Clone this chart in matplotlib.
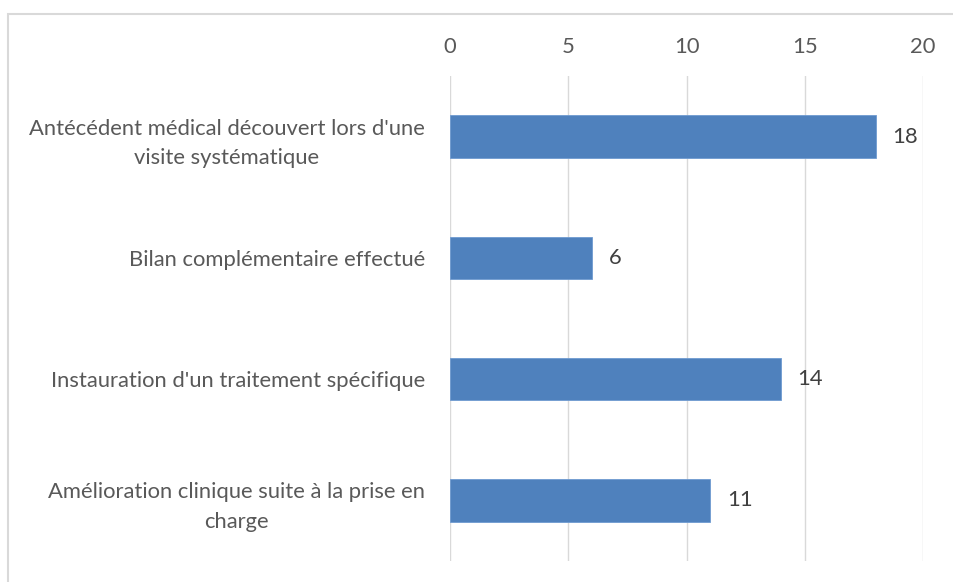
import matplotlib.pyplot as plt
from matplotlib.patches import Rectangle

categories = [
    "Antécédent médical découvert lors d'une\nvisite systématique",
    "Bilan complémentaire effectué",
    "Instauration d'un traitement spécifique",
    "Amélioration clinique suite à la prise en\ncharge",
]
counts = [18, 6, 14, 11]
x_ticks = [0, 5, 10, 15, 20]

TEXT = "#595959"
GRID = "#d9d9d9"
BAR = "#4f81bd"
FS = 15.8

plt.rcParams["font.family"] = ["Lato", "DejaVu Sans"]

fig = plt.figure(figsize=(9.54, 5.82), dpi=100)
ax = fig.add_axes([450 / 954, 1 - 561 / 582, 473 / 954, 485 / 582])

# chart border (only top/left edges visible in the crop)
fig.patches.append(Rectangle((8 / 954, -0.1), 1.1, 1 - 14 / 582 + 0.1,
                             transform=fig.transFigure, fill=False,
                             edgecolor=GRID, linewidth=1.5))

ypos = list(range(len(categories)))
ax.barh(ypos, counts, height=0.35, color=BAR, edgecolor="#6f9bd1", linewidth=0.6, zorder=3)
for y, v in zip(ypos, counts):
    ax.text(v + 0.7, y, str(v), va="center", ha="left", fontsize=FS, color="#404040")

ax.set_xlim(0, 20)
ax.set_ylim(len(categories) - 0.5, -0.5)
ax.set_xticks(x_ticks)
ax.xaxis.tick_top()
ax.tick_params(axis="x", length=0, pad=14, labelsize=FS, labelcolor=TEXT)
ax.set_yticks(ypos)
ax.set_yticklabels(categories)
ax.tick_params(axis="y", length=0, pad=18, labelsize=FS, labelcolor=TEXT)
for lab in ax.get_yticklabels():
    lab.set_multialignment("center")
    lab.set_linespacing(1.6)
ax.grid(axis="x", color=GRID, linewidth=1, zorder=0)
for s in ax.spines.values():
    s.set_visible(False)

fig.savefig("out.png", dpi=100)
